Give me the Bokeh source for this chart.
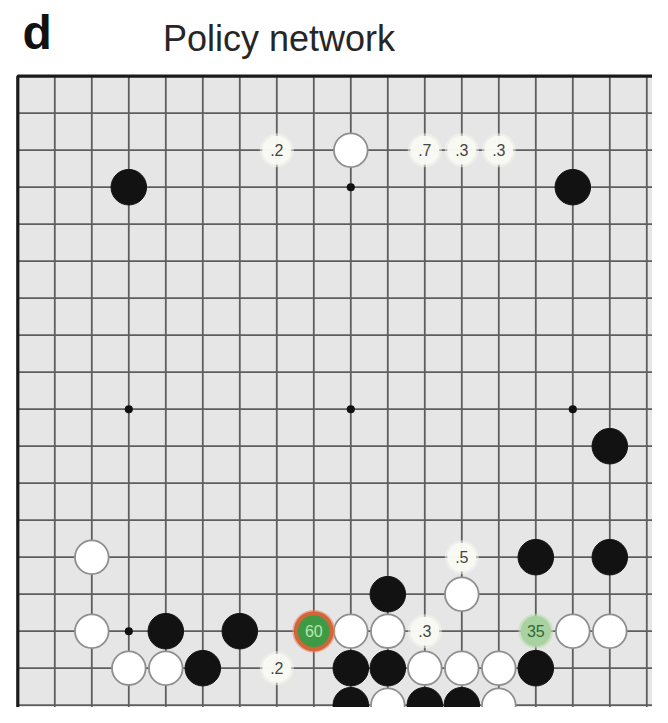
from bokeh.plotting import figure
from bokeh.models import Range1d
from bokeh.core.properties import value
from bokeh.embed import file_html
from bokeh.resources import INLINE

# ---- data (board coordinates: column, row from top-left) ----
board_size = 19
hoshi_cols = [3, 9, 15, 3, 9, 15, 3, 9, 15]
hoshi_rows = [3, 3, 3, 9, 9, 9, 15, 15, 15]

black_cols = [3, 15, 16, 14, 16, 10, 4, 6, 5, 9, 10, 14, 9, 11, 12]
black_rows = [3, 3, 10, 13, 13, 14, 15, 15, 16, 16, 16, 16, 17, 17, 17]

white_cols = [9, 2, 12, 2, 9, 10, 15, 16, 3, 4, 11, 12, 13, 10, 13]
white_rows = [2, 13, 14, 15, 15, 15, 15, 15, 16, 16, 16, 16, 16, 17, 17]

# policy network move probabilities (percent)
prob_cols = [7, 11, 12, 13, 12, 11, 7]
prob_rows = [2, 2, 2, 2, 13, 15, 16]
prob_text = [".2", ".7", ".3", ".3", ".5", ".3", ".2"]

top_col, top_row, top_text = [8], [15], ["60"]
second_col, second_row, second_text = [14], [15], ["35"]

# ---- layout ----
W, H = 652, 707
SP = 37.0
X0, Y0 = 17.3, 75.7

p = figure(width=W, height=H, output_backend="svg", toolbar_location=None,
           x_range=Range1d(-X0 / SP, (W - X0) / SP),
           y_range=Range1d((H - Y0) / SP, -Y0 / SP),
           x_axis_type=None, y_axis_type=None, min_border=0)
p.outline_line_color = None
p.grid.visible = False
p.background_fill_color = "white"
p.border_fill_color = "white"

n = board_size - 1
p.quad(left=[0], right=[n], top=[0], bottom=[n], fill_color="#e6e6e6", line_color=None)

lines = list(range(board_size))
p.segment(x0=lines, y0=[0] * board_size, x1=lines, y1=[n] * board_size,
          line_color="#5e5e5e", line_width=1.8)
p.segment(x0=[0] * board_size, y0=lines, x1=[n] * board_size, y1=lines,
          line_color="#5e5e5e", line_width=1.8)
p.quad(left=[0], right=[n], top=[0], bottom=[n], fill_color=None,
       line_color="#1a1a1a", line_width=3.2)

p.circle(x=hoshi_cols, y=hoshi_rows, radius=0.11, fill_color="#111111", line_color=None)

p.circle(x=black_cols, y=black_rows, radius=0.48, fill_color="#121212", line_color="#121212",
         line_width=1)
p.circle(x=white_cols, y=white_rows, radius=0.455, fill_color="white", line_color="#8f8f8f",
         line_width=1.8)

# probability labels (soft halo)
p.circle(x=prob_cols, y=prob_rows, radius=0.46, fill_color="#f6f6f0", line_color=None,
         fill_alpha=0.5)
p.circle(x=prob_cols, y=prob_rows, radius=0.39, fill_color="#f9f9f4", line_color=None,
         fill_alpha=0.97)
p.text(x=prob_cols, y=prob_rows, text=prob_text, text_align="center", text_baseline="middle",
       text_font=value("Liberation Sans"), text_font_size="16px", text_color="#444444")

# most probable moves
p.circle(x=top_col, y=top_row, radius=0.58, fill_color="#e58a62", line_color=None,
         fill_alpha=0.6)
p.circle(x=top_col, y=top_row, radius=0.54, fill_color="#d4643a", line_color=None)
p.circle(x=top_col, y=top_row, radius=0.43, fill_color="#3f9a45", line_color=None)
p.text(x=top_col, y=top_row, text=top_text, text_align="center", text_baseline="middle",
       text_font=value("Liberation Sans"), text_font_size="16px", text_color="#b9e6b0")

p.circle(x=second_col, y=second_row, radius=0.47, fill_color="#b9dcb2", line_color=None,
         fill_alpha=0.6)
p.circle(x=second_col, y=second_row, radius=0.41, fill_color="#a8d3a0", line_color=None)
p.text(x=second_col, y=second_row, text=second_text, text_align="center",
       text_baseline="middle", text_font=value("Liberation Sans"), text_font_size="16px",
       text_color="#2f6a36")

# titles
p.text(x=[0.13], y=[-1.18], text=["d"], text_align="left", text_baseline="alphabetic",
       text_font=value("Liberation Sans"), text_font_size="48px", text_font_style="bold",
       text_color="#111111")
p.text(x=[7.06], y=[-1.02], text=["Policy network"], text_align="center",
       text_baseline="alphabetic", text_font=value("Liberation Sans"), text_font_size="36px",
       text_color="#262626")

open("out.html", "w").write(file_html(p, INLINE))
